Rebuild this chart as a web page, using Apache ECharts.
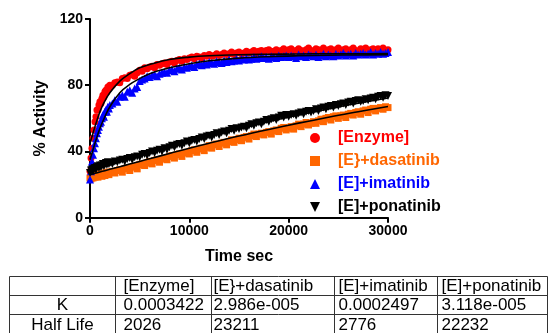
<!DOCTYPE html>
<html>
<head>
<meta charset="utf-8">
<script src="https://cdn.jsdelivr.net/npm/echarts@6/dist/echarts.min.js"></script>
<style>html,body{margin:0;padding:0;background:#fff;}#c{width:549px;height:333px;}</style>
</head>
<body>
<div id="c"></div>
<script>
// ---- data ----
var seriesNames = ['[Enzyme]', '[E}+dasatinib', '[E]+imatinib', '[E]+ponatinib'];
var seriesColors = ['#ff0000', '#ff6600', '#0000ff', '#000000'];

// sample times: 0..2000 every 100 s, then 2250..30000 every 250 s
var timeSec = [0,100,200,300,400,500,600,700,800,900,1000,1100,1200,1300,1400,1500,1600,1700,1800,1900,2000,
  2250,2500,2750,3000,3250,3500,3750,4000,4250,4500,4750,
  5000,5250,5500,5750,6000,6250,6500,6750,7000,7250,
  7500,7750,8000,8250,8500,8750,9000,9250,9500,9750,
  10000,10250,10500,10750,11000,11250,11500,11750,12000,12250,
  12500,12750,13000,13250,13500,13750,14000,14250,14500,14750,
  15000,15250,15500,15750,16000,16250,16500,16750,17000,17250,
  17500,17750,18000,18250,18500,18750,19000,19250,19500,19750,
  20000,20250,20500,20750,21000,21250,21500,21750,22000,22250,
  22500,22750,23000,23250,23500,23750,24000,24250,24500,24750,
  25000,25250,25500,25750,26000,26250,26500,26750,27000,27250,
  27500,27750,28000,28250,28500,28750,29000,29250,29500,29750,
  30000];

var enzymeVals = [28,36,42,48,53,58,61,65,65,68,70,69,72,74,73,76,77,76,79,78,80,
  80,81.5,82,81.5,84,84.5,84,86,86.5,85.5,87.5,
  89,88.5,90.5,90,91,91.5,90.5,92.5,92,93,
  93.5,92.5,94,94.5,93.5,95,95.5,94.5,96,95.5,
  96.5,97,96,97.5,97,96.5,98,97.5,98.5,97.5,
  98,99,98,98.5,99.5,98.5,99,100,98.5,99.5,
  100,99,99.5,100.5,99.5,100,101,99.5,100.5,101,
  100,101,101.5,100,100.5,101.5,100.5,101,102,100.5,
  101.5,102,100.5,101,102,101,100.5,101.5,102.5,101,
  100.5,102,101.5,100.5,102.5,101,101.5,102,100.5,101.5,
  102.5,101,101.5,102,100.5,101.5,102.5,101,100.5,102,
  101.5,102.5,101,101.5,102,100.5,102,101.5,102.5,101,
  101.5];

var dasatinibVals = [24,23.5,25,24,25.5,24.5,25,26,24.5,26,25.5,26.5,25,26.5,27,25.5,27,26.5,27.5,26,27.5,
  28,27,28.5,29,27.5,29.5,30,28.5,30.5,31,29.5,
  32,32.5,31.5,33,34,32.5,34.5,35,33.5,35.5,
  36,35,37,37.5,36,38,38.5,37,39,39.5,
  38.5,40.5,41,39.5,41.5,42,40.5,42.5,43.5,42,
  44,44.5,43,45,45.5,44,46,47,45.5,47,
  48,46.5,48.5,49,47.5,49.5,50.5,49,50.5,51,
  50,51.5,52,50.5,52.5,53,52,54,54.5,53,
  54,55,53.5,55.5,56.5,55,56.5,57.5,56,57,
  58,57,58.5,59.5,58,60,60.5,59,61,61.5,
  60,61.5,62,60.5,62.5,63,62,63.5,64,62.5,
  64.5,65,63.5,65.5,66,64.5,66,66.5,65.5,67,
  66.5];

var imatinibVals = [23,28,34,38,42,45,48,51,53,55,57,58,60,62,61,64,65,64,67,66,68,
  69,71,70,73,74,73,76,77,75.5,78,79,
  82.5,83.5,84,85.5,85,86,86.5,85.5,87,87.5,
  88,87.5,89,89.5,88.5,90,90.5,89.5,91,90.5,
  91.5,92,91,92.5,93,92,93.5,92.5,94,93.5,
  93,94.5,94,93.5,95,94,95.5,94.5,95,96,
  95,96,95.5,96.5,95.5,96,97,96,96.5,97.5,
  96.5,97,96,97.5,97,96.5,98,97,97.5,98,
  97,98,97.5,96.5,98.5,97.5,98,97,98.5,98,
  97.5,98.5,97,98,99,97.5,98.5,98,97.5,99,
  98,98.5,99.5,98,98.5,99,98,99.5,98.5,99,
  99.5,98.5,99,100,98.5,99.5,99,100,99,99.5,
  100];

var ponatinibVals = [27,28.5,29,28,29.5,30,29,30.5,31,30,31.5,30.5,31.5,32.5,31,32.5,33,32,33.5,32.5,33,
  32.5,34,33.5,34.5,35,34,35.5,36,35,36.5,37,
  36.5,38,38.5,37.5,39,40,39,40.5,41,40,
  42,41,42.5,43.5,42.5,44,44.5,43.5,45,46,
  45,46.5,47,46,47.5,48.5,47.5,49,49.5,48.5,
  50,51,50,51.5,52,51,52.5,53.5,52.5,54,
  53.5,54.5,55,54,55.5,56.5,55.5,57,57.5,56.5,
  58,59,58,59.5,60,59,60.5,61.5,60.5,62,
  61,62,62.5,61.5,63,63.5,62.5,64,64.5,63.5,
  64.5,65.5,64.5,66,66.5,65.5,67,67.5,66.5,68,
  67.5,68.5,69,68,69.5,70,69,70.5,71,70,
  70.5,71.5,71,72,72.5,71.5,73,73.5,72.5,74,
  73.5];

// fitted curves
var fitTime = [0,250,500,1000,1500,2000,3000,4000,5000,6000,8000,10000,12000,15000,18000,21000,24000,27000,30000];
var enzymeFit    = [45,50,55,64,70.5,75.5,82.5,87,90.5,92.5,95.5,97,97.8,98.4,98.7,98.9,99,99,99.1];
var dasatinibFit = [26,26.4,26.8,27.6,28.4,29.2,30.8,32.4,34,35.6,38.8,42,45,49.3,53.3,57.1,60.7,64,67.2];
var imatinibFit  = [35,40,45,54,61,67,75.5,80.5,84,87,90.5,93,94.8,96.4,97.3,97.8,98.1,98.3,98.4];
var ponatinibFit = [28,28.5,29,30,30.9,31.8,33.6,35.4,37.2,39,42.5,45.8,49,53.6,58,62,65.7,69.1,72.3];

var yTicks = [0, 40, 80, 120];
var xTicks = [0, 10000, 20000, 30000];

// table
var tableHeader = ['', '[Enzyme]', '[E}+dasatinib', '[E]+imatinib', '[E]+ponatinib'];
var tableRowLabels = ['K', 'Half Life'];
var kValues = ['0.0003422', '2.986e-005', '0.0002497', '3.118e-005'];
var halfLifeValues = ['2026', '23211', '2776', '22232'];

// ---- build chart ----
var seriesVals = [enzymeVals, dasatinibVals, imatinibVals, ponatinibVals];
var fitVals = [enzymeFit, dasatinibFit, imatinibFit, ponatinibFit];
var symbols = ['circle', 'rect', 'triangle', 'path://M0,0 L10,0 L5,10 Z'];
var symSizes = [7, 7, 8, 8];

function pairs(xs, ys) { return xs.map(function (x, i) { return [x, ys[i]]; }); }

var series = [];
seriesNames.forEach(function (n, i) {
  series.push({
    name: n, type: 'scatter', data: pairs(timeSec, seriesVals[i]),
    symbol: symbols[i], symbolSize: symSizes[i],
    itemStyle: { color: seriesColors[i], opacity: 1 },
    z: 2 + i, silent: true, large: false
  });
});
seriesNames.forEach(function (n, i) {
  series.push({
    name: n + ' fit', type: 'line', data: pairs(fitTime, fitVals[i]),
    smooth: 0.4, showSymbol: false, symbol: 'none',
    lineStyle: { color: '#000', width: 1.6 }, z: 10, silent: true
  });
});

// table graphics
var colX = [9.5, 115.5, 211.5, 334.5, 437.5, 547.5];
var rowY = [276.5, 295.5, 314.5, 334.5];
var tableFont = '17px "Liberation Sans", Arial, sans-serif';
var graphics = [];
rowY.forEach(function (y) {
  graphics.push({ type: 'line', shape: { x1: colX[0], y1: y, x2: colX[5], y2: y }, style: { stroke: '#333', lineWidth: 1 } });
});
colX.forEach(function (x) {
  graphics.push({ type: 'line', shape: { x1: x, y1: rowY[0], x2: x, y2: rowY[3] }, style: { stroke: '#333', lineWidth: 1 } });
});
var rows = [tableHeader, [tableRowLabels[0]].concat(kValues), [tableRowLabels[1]].concat(halfLifeValues)];
var pad = [0, 8, 2, 4, 4];
rows.forEach(function (r, ri) {
  var cy = (rowY[ri] + rowY[ri + 1]) / 2 + 0.5;
  r.forEach(function (txt, ci) {
    if (!txt) return;
    var centered = ci === 0;
    var x = centered ? (colX[0] + colX[1]) / 2 : colX[ci] + pad[ci];
    graphics.push({
      type: 'text', x: x, y: cy,
      style: { text: txt, font: tableFont, fill: '#000',
        align: centered ? 'center' : 'left', verticalAlign: 'middle',
        textAlign: centered ? 'center' : 'left', textVerticalAlign: 'middle' }
    });
  });
});

var chart = echarts.init(document.getElementById('c'), null, { renderer: 'canvas' });
var boldFont = { fontFamily: '"Liberation Sans", Arial, sans-serif', fontWeight: 'bold', color: '#000' };
chart.setOption({
  animation: false,
  backgroundColor: '#fff',
  grid: { left: 90, right: 161, top: 19, bottom: 115.3, containLabel: false },
  xAxis: {
    type: 'value', min: xTicks[0], max: xTicks[xTicks.length - 1], interval: xTicks[1] - xTicks[0],
    name: 'Time sec', nameLocation: 'middle', nameGap: 31,
    nameTextStyle: Object.assign({ fontSize: 16 }, boldFont),
    axisLine: { show: true, onZero: false, lineStyle: { color: '#000', width: 2 } },
    axisTick: { show: true, inside: false, length: 5, lineStyle: { color: '#000', width: 2 } },
    axisLabel: Object.assign({ fontSize: 14, margin: 6, formatter: function (v) { return String(v); } }, boldFont),
    splitLine: { show: false }
  },
  yAxis: {
    type: 'value', min: yTicks[0], max: yTicks[yTicks.length - 1], interval: yTicks[1] - yTicks[0],
    name: '% Activity', nameLocation: 'middle', nameGap: 32, nameRotate: 90,
    nameTextStyle: Object.assign({ fontSize: 16 }, boldFont),
    axisLine: { show: true, onZero: false, lineStyle: { color: '#000', width: 2 } },
    axisTick: { show: true, inside: false, length: 5, lineStyle: { color: '#000', width: 2 } },
    axisLabel: Object.assign({ fontSize: 14, margin: 7, formatter: function (v) { return String(v); } }, boldFont),
    splitLine: { show: false }
  },
  legend: {
    orient: 'vertical', left: 305, top: 125, itemWidth: 10, itemHeight: 10, itemGap: 7,
    selectedMode: false,
    data: seriesNames.map(function (n, i) {
      return { name: n, icon: symbols[i], itemStyle: { color: seriesColors[i] },
        textStyle: { color: seriesColors[i] } };
    }),
    textStyle: Object.assign({ fontSize: 16, lineHeight: 14, padding: [0, 0, 0, 13] }, boldFont)
  },
  graphic: graphics,
  series: series
});
</script>
</body>
</html>
